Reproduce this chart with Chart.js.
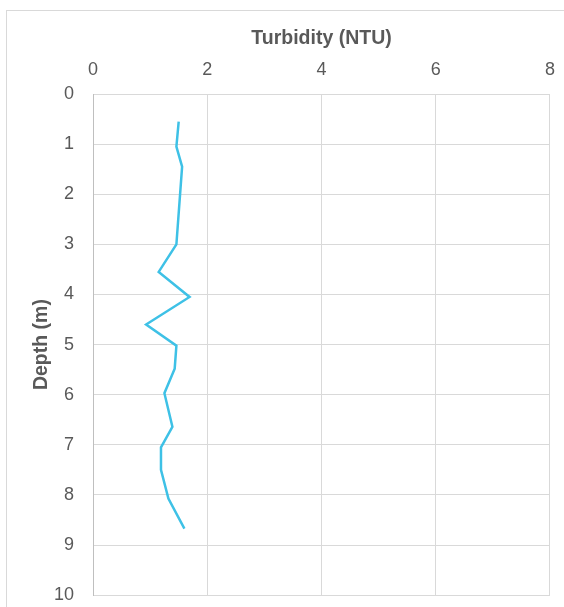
<!DOCTYPE html>
<html>
<head>
<meta charset="utf-8">
<script src="https://cdn.jsdelivr.net/npm/chart.js@4/dist/chart.umd.min.js"></script>
<style>
  body { margin: 0; background: #fff; overflow: hidden; }
  #frame { position: absolute; left: 6px; top: 10px; width: 600px; height: 640px; border: 1px solid #d9d9d9; }
  #wrap { position: absolute; left: 0; top: 0; width: 568px; height: 625px; }
</style>
</head>
<body>
<div id="frame"></div>
<div id="wrap"><canvas id="chart"></canvas></div>
<script>
// turbidity readings down the water column
const depths = [0.55, 1.05, 1.45, 3.0, 3.55, 4.05, 4.6, 5.02, 5.48, 5.97, 6.64, 7.05, 7.5, 8.07, 8.67];
const turbidity = [1.50, 1.46, 1.56, 1.46, 1.15, 1.69, 0.93, 1.46, 1.43, 1.25, 1.39, 1.19, 1.19, 1.32, 1.60];
const xTitle = 'Turbidity (NTU)';
const yTitle = 'Depth (m)';

const grey = '#595959';
const gridColor = '#d9d9d9';

new Chart(document.getElementById('chart').getContext('2d'), {
    type: 'scatter',
    data: {
        datasets: [{
            label: xTitle,
            data: depths.map((d, i) => ({ x: turbidity[i], y: d })),
            showLine: true,
            borderColor: '#3ec1e6',
            borderWidth: 2.5,
            pointRadius: 0,
            tension: 0
        }]
    },
    options: {
        responsive: true,
        maintainAspectRatio: false,
        animation: false,
        layout: { padding: { left: 0, top: 0, right: 5, bottom: 0 } },
        scales: {
            x: {
                position: 'top',
                min: 0, max: 8,
                ticks: { stepSize: 2, color: grey, font: { family: 'Liberation Sans', size: 18 }, padding: 13 },
                grid: { color: gridColor, drawTicks: false },
                border: { color: gridColor },
                title: { display: true, text: xTitle, color: grey, font: { family: 'Liberation Sans', size: 19.5, weight: 'bold' }, padding: { top: 27, bottom: 0 } },
                afterFit: s => { s.height = 94; }
            },
            y: {
                reverse: true,
                min: 0, max: 10,
                ticks: { stepSize: 1, color: grey, font: { family: 'Liberation Sans', size: 18 }, padding: 19 },
                grid: { color: gridColor, drawTicks: false },
                border: { color: '#bfbfbf' },
                title: { display: true, text: yTitle, color: grey, font: { family: 'Liberation Sans', size: 19.5, weight: 'bold' }, padding: { top: 30, bottom: 0 } },
                afterFit: s => { s.width = 93; }
            }
        },
        plugins: { legend: { display: false }, tooltip: { enabled: false } }
    }
});
</script>
</body>
</html>
